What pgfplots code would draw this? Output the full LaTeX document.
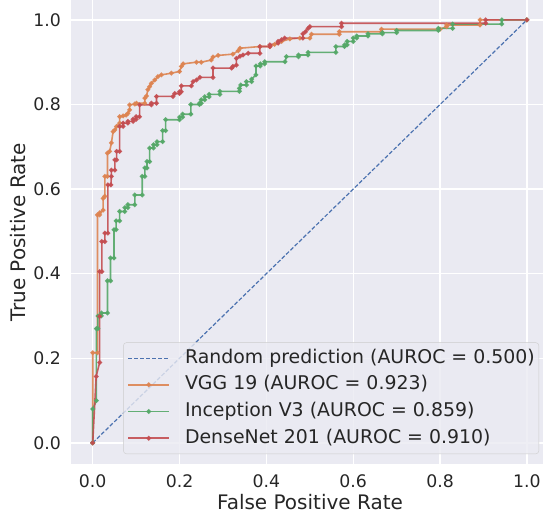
\documentclass[border=0pt]{standalone}
\usepackage{fontspec}
\setmainfont{DejaVu Sans}
\usepackage{pgfplots}
\pgfplotsset{compat=1.18}
\definecolor{bgc}{HTML}{EAEAF2}
\definecolor{c0}{HTML}{4C72B0}
\definecolor{c1}{HTML}{DD8452}
\definecolor{c2}{HTML}{55A868}
\definecolor{c3}{HTML}{C44E52}
\definecolor{labc}{HTML}{262626}
\definecolor{legedge}{HTML}{CCCCCC}
\begin{document}
\begin{tikzpicture}
\begin{axis}[
  at={(0pt,0pt)}, anchor=south west,
  scale only axis, width=472pt, height=464pt,
  xmin=-0.05, xmax=1.037, ymin=-0.05, ymax=1.047,
  axis background/.style={fill=bgc},
  axis line style={draw=none},
  grid=major, major grid style={white, line width=1.3pt},
  xtick={0,0.2,0.4,0.6,0.8,1.0}, ytick={0,0.2,0.4,0.6,0.8,1.0},
  major tick length=0pt,
  /pgf/number format/assume math mode=true,
  tick label style={font=\fontsize{17.3}{20}\selectfont, text=labc, inner sep=0pt},
  xticklabel style={anchor=north, yshift=-10pt, /pgf/number format/.cd, fixed, fixed zerofill, precision=1},
  yticklabel style={anchor=east, xshift=-10pt, /pgf/number format/.cd, fixed, fixed zerofill, precision=1},
  xlabel={False Positive Rate}, ylabel={True Positive Rate},
  label style={font=\fontsize{20}{24}\selectfont, text=labc},
  xlabel style={at={(axis description cs:0.5064,-0.097)}, anchor=base},
  ylabel style={at={(axis description cs:-0.0955,0.5)}, anchor=base},
  legend cell align=left,
  legend image code/.code={\draw[mark repeat=2,mark phase=2,#1] plot coordinates {(0pt,0pt) (20.5pt,0pt) (41pt,0pt)};},
  legend style={at={(axis description cs:1,0)}, anchor=south east, xshift=-4pt, yshift=10pt,
    fill=bgc, fill opacity=0.8, draw opacity=1, text opacity=1, draw=legedge, rounded corners=3pt,
    inner xsep=4pt, inner ysep=6pt, row sep=7.6pt,
    font=\fontsize{18.9}{22}\selectfont, text=labc,
    nodes={inner sep=0pt, text height=14.5pt, text depth=4.6pt},
    /tikz/every odd column/.append style={column sep=15pt}},
]
\addplot[c0, line width=1.2pt, dash pattern=on 4pt off 2pt] coordinates {(0,0) (1,1)};
\addlegendentry{Random prediction (AUROC = 0.500)}

\addplot[c1, opacity=0.9, line width=1.6pt, mark=*, mark size=1.5pt] coordinates {
(0,0) (0,0.213) (0.011,0.213) (0.011,0.539) (0.016,0.539) (0.016,0.544) (0.024,0.55) (0.024,0.578)
(0.028,0.583) (0.028,0.63) (0.034,0.63) (0.034,0.685) (0.039,0.689) (0.043,0.709) (0.047,0.736)
(0.051,0.74) (0.055,0.748) (0.062,0.756) (0.062,0.771) (0.07,0.773) (0.077,0.775) (0.081,0.779)
(0.085,0.787) (0.085,0.799) (0.097,0.801) (0.101,0.803) (0.12,0.803) (0.12,0.815) (0.124,0.82)
(0.127,0.835) (0.131,0.842) (0.135,0.85) (0.143,0.858) (0.15,0.866) (0.158,0.87) (0.181,0.874)
(0.2,0.878) (0.204,0.89) (0.208,0.896) (0.239,0.9) (0.25,0.9) (0.273,0.905) (0.277,0.912)
(0.289,0.916) (0.323,0.919) (0.335,0.927) (0.339,0.933) (0.385,0.937) (0.408,0.937) (0.419,0.942)
(0.427,0.946) (0.435,0.949) (0.454,0.955) (0.477,0.957) (0.5,0.957) (0.504,0.966) (0.568,0.966)
(0.568,0.972) (0.665,0.972) (0.665,0.978) (0.8,0.978) (0.815,0.984) (0.815,0.988) (0.892,0.988)
(0.892,1.0) (1,1)};
\addlegendentry{VGG 19 (AUROC = 0.923)}

\addplot[c2, opacity=0.9, line width=1.6pt, mark=*, mark size=1.5pt] coordinates {
(0,0) (0,0.08) (0.0085,0.10) (0.0085,0.27) (0.012,0.27) (0.012,0.30) (0.02,0.30) (0.02,0.307)
(0.034,0.307) (0.034,0.383) (0.041,0.383) (0.041,0.437) (0.049,0.437) (0.049,0.504) (0.054,0.504)
(0.054,0.525) (0.062,0.525) (0.062,0.547) (0.074,0.547) (0.074,0.556) (0.081,0.556) (0.081,0.563)
(0.097,0.563) (0.097,0.586) (0.114,0.586) (0.114,0.63) (0.12,0.63) (0.12,0.65) (0.125,0.65)
(0.125,0.665) (0.131,0.665) (0.131,0.697) (0.14,0.697) (0.14,0.705) (0.148,0.705) (0.148,0.712)
(0.161,0.712) (0.161,0.738) (0.168,0.738) (0.168,0.764) (0.20,0.764) (0.20,0.770) (0.207,0.770)
(0.207,0.777) (0.226,0.777) (0.226,0.80) (0.246,0.80) (0.246,0.803) (0.25,0.803) (0.25,0.811)
(0.258,0.811) (0.258,0.818) (0.268,0.818) (0.268,0.824) (0.293,0.824) (0.293,0.831) (0.338,0.831)
(0.338,0.838) (0.341,0.846) (0.354,0.846) (0.354,0.854) (0.366,0.854) (0.366,0.86) (0.376,0.87)
(0.376,0.891) (0.386,0.891) (0.386,0.896) (0.396,0.896) (0.396,0.901) (0.443,0.901) (0.446,0.913)
(0.474,0.913) (0.474,0.917) (0.496,0.917) (0.496,0.923) (0.56,0.923) (0.56,0.937) (0.58,0.937)
(0.58,0.941) (0.586,0.941) (0.586,0.949) (0.6,0.949) (0.6,0.957) (0.608,0.957) (0.608,0.962)
(0.634,0.962) (0.634,0.967) (0.667,0.967) (0.667,0.970) (0.7,0.970) (0.7,0.975) (0.796,0.975)
(0.796,0.98) (0.829,0.98) (0.829,0.99) (0.942,0.99) (0.942,1.0) (1,1)};
\addlegendentry{Inception V3 (AUROC = 0.859)}

\addplot[c3, opacity=0.9, line width=1.6pt, mark=*, mark size=1.5pt] coordinates {
(0,0) (0.008,0.157) (0.016,0.19) (0.016,0.299) (0.016,0.405) (0.021,0.405) (0.021,0.476)
(0.028,0.476) (0.028,0.496) (0.035,0.496) (0.035,0.61) (0.042,0.61) (0.043,0.63) (0.043,0.645)
(0.051,0.645) (0.051,0.669) (0.055,0.669) (0.055,0.689) (0.062,0.689) (0.062,0.748) (0.07,0.748)
(0.07,0.756) (0.081,0.756) (0.081,0.76) (0.093,0.76) (0.093,0.765) (0.1,0.765) (0.1,0.771)
(0.108,0.771) (0.108,0.799) (0.135,0.799) (0.135,0.803) (0.147,0.803) (0.147,0.819) (0.185,0.819)
(0.189,0.826) (0.2,0.826) (0.2,0.83) (0.204,0.83) (0.204,0.844) (0.227,0.844) (0.231,0.854)
(0.239,0.858) (0.247,0.864) (0.277,0.864) (0.277,0.886) (0.32,0.886) (0.323,0.89) (0.331,0.893)
(0.331,0.909) (0.339,0.914) (0.346,0.917) (0.358,0.921) (0.385,0.921) (0.385,0.937) (0.408,0.937)
(0.408,0.941) (0.427,0.945) (0.427,0.949) (0.435,0.953) (0.442,0.957) (0.484,0.957) (0.484,0.967)
(0.49,0.972) (0.496,0.98) (0.5,0.984) (0.573,0.984) (0.573,0.992) (0.905,0.992) (0.905,1.0) (1,1)};
\addlegendentry{DenseNet 201 (AUROC = 0.910)}
\end{axis}
\pgfresetboundingbox
\path[use as bounding box] (-71pt,-53pt) rectangle (472pt,464pt);
\end{tikzpicture}
\end{document}
